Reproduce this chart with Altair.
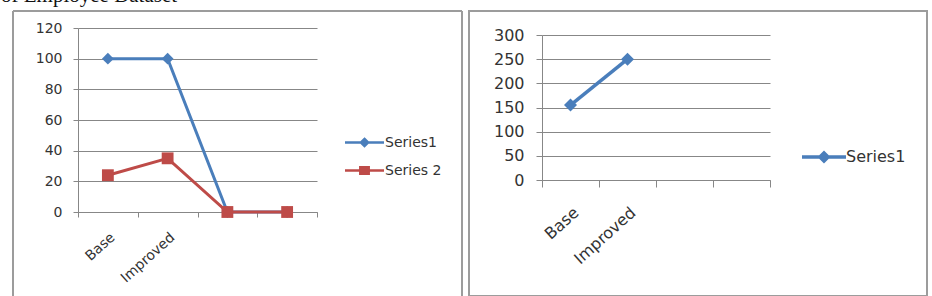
import altair as alt
import pandas as pd

# ---- data ----
categories = ["Base", "Improved", " ", "  "]
series_names = ["Series1", "Series 2"]
left_series1 = [100, 100, 0, 0]
left_series2 = [24, 35, 0, 0]
right_series1 = [155, 250, None, None]
left_y_ticks = [0, 20, 40, 60, 80, 100, 120]
right_y_ticks = [0, 50, 100, 150, 200, 250, 300]
caption = "of Employee Dataset"

BLUE = "#4a7ebb"
RED = "#be4b48"
GRID = "#878787"
BORDER = "#9c9c9c"
TXT = "#333333"
FONT = "DejaVu Sans"

# legend symbols: a line segment with the marker in its middle
SYM_DIAMOND_L = "M-1.95,0L1.95,0M0,-0.36L0.36,0L0,0.36L-0.36,0ZM0,-0.16L0.16,0L0,0.16L-0.16,0Z"
SYM_SQUARE_L = "M-1.95,0L1.95,0M-0.42,-0.32L0.42,-0.32L0.42,0.32L-0.42,0.32ZM-0.2,-0.12L0.2,-0.12L0.2,0.12L-0.2,0.12Z"
SYM_DIAMOND_R = "M-2,0L2,0M0,-0.37L0.37,0L0,0.37L-0.37,0ZM0,-0.15L0.15,0L0,0.15L-0.15,0Z"

left_df = pd.DataFrame({
    "cat": categories * 2,
    "idx": list(range(len(categories))) * 2,
    "series": [series_names[0]] * len(categories) + [series_names[1]] * len(categories),
    "value": left_series1 + left_series2,
})
right_df = pd.DataFrame({
    "cat": categories,
    "idx": list(range(len(categories))),
    "series": [series_names[0]] * len(categories),
    "value": right_series1,
}).dropna()
frame_df = pd.DataFrame({"k": [0]})

# ---------------- left chart ----------------
xl = alt.X("cat:N", sort=categories,
           scale=alt.Scale(type="band", domain=categories, paddingInner=0, paddingOuter=0),
           axis=alt.Axis(title=None, labelAngle=-42, tickBand="extent", grid=False,
                         domainColor=GRID, tickColor=GRID, tickSize=5, labelPadding=13,
                         labelFontSize=14))
yl = alt.Y("value:Q", scale=alt.Scale(domain=[0, 120]),
           axis=alt.Axis(title=None, values=left_y_ticks, grid=True, gridColor=GRID,
                         domainColor=GRID, tickColor=GRID, tickSize=5, labelPadding=11,
                         labelFontSize=14))


def left_legend(symbol, y):
    return alt.Legend(
        title=None, orient="none", legendX=275, legendY=y, padding=0,
        symbolType=symbol, symbolSize=400, symbolStrokeWidth=2.5, symbolOpacity=1,
        labelOffset=9, labelFontSize=14, labelColor=TXT,
    )


line_l1 = alt.Chart(left_df).transform_filter(alt.datum.series == series_names[0]).mark_line(strokeWidth=3).encode(
    x=xl, y=yl, order=alt.Order("idx:Q"),
    stroke=alt.Stroke("series:N", scale=alt.Scale(domain=[series_names[0]], range=[BLUE]),
                      legend=left_legend(SYM_DIAMOND_L, 103)),
)
line_l2 = alt.Chart(left_df).transform_filter(alt.datum.series == series_names[1]).mark_line(strokeWidth=3).encode(
    x=xl, y=yl, order=alt.Order("idx:Q"),
    stroke=alt.Stroke("series:N", scale=alt.Scale(domain=[series_names[1]], range=[RED]),
                      legend=left_legend(SYM_SQUARE_L, 131)),
)
pts_l1 = alt.Chart(left_df).transform_filter(alt.datum.series == series_names[0]).mark_point(
    filled=True, opacity=1, size=140, shape="diamond", color=BLUE).encode(x=xl, y=yl)
pts_l2 = alt.Chart(left_df).transform_filter(alt.datum.series == series_names[1]).mark_point(
    filled=True, opacity=1, size=140, shape="square", color=RED).encode(x=xl, y=yl)

b_top = alt.Chart(frame_df).mark_rule(color=BORDER, strokeWidth=2).encode(
    x=alt.value(-65), x2=alt.value(384), y=alt.value(-17))
b_left = alt.Chart(frame_df).mark_rule(color=BORDER, strokeWidth=2).encode(
    x=alt.value(-65), y=alt.value(-17), y2=alt.value(268.5))
b_right = alt.Chart(frame_df).mark_rule(color=BORDER, strokeWidth=2).encode(
    x=alt.value(384), y=alt.value(-17), y2=alt.value(268.5))
cap = alt.Chart(frame_df).mark_text(
    text=caption, align="left", baseline="alphabetic", font="Liberation Serif",
    fontSize=21, color="#111111").encode(x=alt.value(-77), y=alt.value(-26))

left = (
    alt.layer(b_top, b_left, b_right, line_l1, line_l2, pts_l1, pts_l2, cap)
    .resolve_scale(stroke="independent")
    .resolve_legend(stroke="independent")
    .properties(width=239, height=184)
)

# ---------------- right chart ----------------
xr = alt.X("cat:N", sort=categories,
           scale=alt.Scale(type="band", domain=categories, paddingInner=0, paddingOuter=0),
           axis=alt.Axis(title=None, labelAngle=-42, tickBand="extent", grid=False,
                         domainColor=GRID, tickColor=GRID, tickSize=7, labelPadding=17,
                         labelFontSize=16))
yr = alt.Y("value:Q", scale=alt.Scale(domain=[0, 300], range=[152, 7]),
           axis=alt.Axis(title=None, values=right_y_ticks, grid=True, gridColor=GRID,
                         domainColor=GRID, tickColor=GRID, tickSize=6, labelPadding=12,
                         labelFontSize=16))
legend_r = alt.Legend(
    title=None, orient="none", legendX=269, legendY=116, padding=0,
    symbolType=SYM_DIAMOND_R, symbolSize=484, symbolStrokeWidth=3.5, symbolOpacity=1,
    labelOffset=9, labelFontSize=16, labelColor=TXT,
)
line_r = alt.Chart(right_df).mark_line(strokeWidth=3.5).encode(
    x=xr, y=yr, order=alt.Order("idx:Q"),
    stroke=alt.Stroke("series:N", scale=alt.Scale(domain=[series_names[0]], range=[BLUE]), legend=legend_r),
)
pts_r = alt.Chart(right_df).mark_point(filled=True, opacity=1, size=170, shape="diamond", color=BLUE).encode(
    x=xr, y=yr)
frame_r = alt.Chart(frame_df).mark_rect(filled=False, color=BORDER, strokeWidth=2).encode(
    x=alt.value(-73), x2=alt.value(385), y=alt.value(-17), y2=alt.value(268))

right = alt.layer(frame_r, line_r, pts_r).properties(width=228, height=152)

chart = (
    alt.hconcat(left, right, spacing=225, bounds="flush")
    .resolve_scale(stroke="independent")
    .resolve_legend(stroke="independent")
    .properties(padding={"left": 1, "top": -15, "right": 0, "bottom": 0})
    .configure_view(strokeWidth=0)
    .configure_axis(labelFont=FONT, labelColor=TXT)
    .configure_legend(labelFont=FONT)
)

chart.save("out.html", embed_options={"renderer": "svg", "actions": False})
